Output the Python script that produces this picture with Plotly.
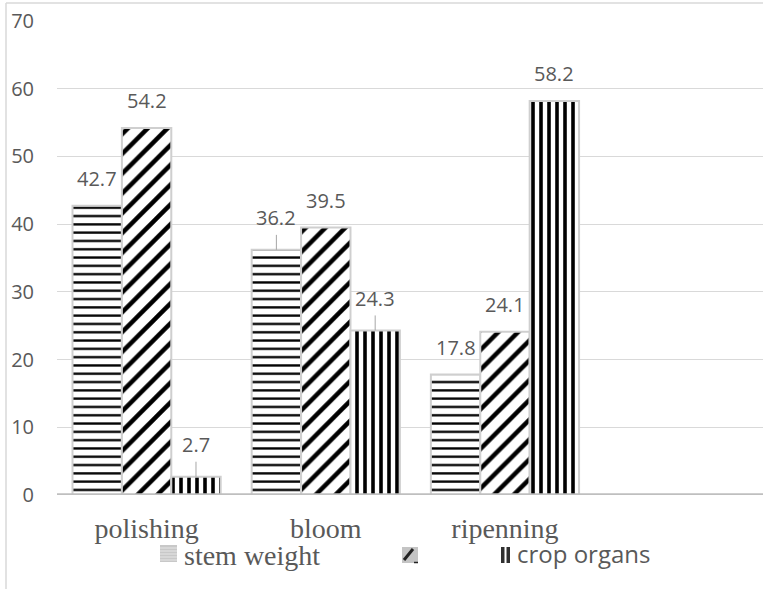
import plotly.graph_objects as go

categories = ["polishing", "bloom", "ripenning"]
series_names = ["stem weight", "", "crop organs"]
stem_weight = [42.7, 36.2, 17.8]
series_two = [54.2, 39.5, 24.1]
crop_organs = [2.7, 24.3, 58.2]
y_ticks = [0, 10, 20, 30, 40, 50, 60, 70]

series_values = [stem_weight, series_two, crop_organs]
patterns = [
    dict(shape="-", size=8.3, solidity=0.28),
    dict(shape="/", size=14, solidity=0.32),
    dict(shape="|", size=8, solidity=0.45),
]

W, H = 763, 589
L, R, T, B = 57, 0, 21, 94
PW, PH = W - L - R, H - T - B

x_idx = list(range(len(categories)))
fig = go.Figure()
for name, vals, pat in zip(series_names, series_values, patterns):
    fig.add_trace(go.Bar(
        x=x_idx, y=vals, name=name,
        marker=dict(color="white",
                    line=dict(color="#cfcfcf", width=2),
                    pattern=dict(fgcolor="#000000", bgcolor="white", fgopacity=1,
                                 fillmode="replace", **pat)),
        showlegend=False, hoverinfo="skip",
    ))

bargap = 0.173
bw = (1 - bargap) / 3
offsets = [-bw, 0, bw]
leader = {(0, 2), (1, 0), (1, 2)}

annotations = []
shapes = []
for s, vals in enumerate(series_values):
    for i, v in enumerate(vals):
        has_leader = (i, s) in leader
        annotations.append(dict(
            x=i + offsets[s], y=v, xref="x", yref="y", text=f"{v}",
            showarrow=False, yanchor="middle", yshift=32 if has_leader else 27,
            font=dict(family="Open Sans", size=20, color="#595959"),
        ))
        if has_leader:
            shapes.append(dict(
                type="line", xref="x", yref="y", ysizemode="pixel", yanchor=v,
                x0=i + offsets[s], x1=i + offsets[s], y0=0, y1=15,
                line=dict(color="#a6a6a6", width=1),
            ))

def px(x):
    return (x - L) / PW

def py(y):
    return (H - B - y) / PH

# zero line
shapes.append(dict(type="line", xref="paper", yref="y", x0=0, x1=1, y0=0, y1=0,
                   line=dict(color="#bfbfbf", width=3.5), layer="above"))
# frame lines (left and top)
shapes.append(dict(type="line", xref="paper", yref="paper", x0=px(6), x1=px(6),
                   y0=py(3), y1=py(589), line=dict(color="#d9d9d9", width=1.5)))
shapes.append(dict(type="line", xref="paper", yref="paper", x0=px(6), x1=px(763),
                   y0=py(3), y1=py(3), line=dict(color="#d9d9d9", width=1.5)))

# legend swatches
shapes.append(dict(type="rect", xref="paper", yref="paper", x0=px(160), x1=px(177),
                   y0=py(562), y1=py(545), fillcolor="#c8c8c8", line=dict(width=0)))
for yy in [548, 551, 554, 557, 560]:
    shapes.append(dict(type="line", xref="paper", yref="paper", x0=px(160), x1=px(177),
                       y0=py(yy), y1=py(yy), line=dict(color="#e6e6e6", width=1)))
shapes.append(dict(type="rect", xref="paper", yref="paper", x0=px(402), x1=px(418),
                   y0=py(563), y1=py(547), fillcolor="#c4c4c4", line=dict(width=0)))
shapes.append(dict(type="line", xref="paper", yref="paper", x0=px(404), x1=px(413),
                   y0=py(560), y1=py(549), line=dict(color="#222222", width=3)))
shapes.append(dict(type="line", xref="paper", yref="paper", x0=px(414), x1=px(418),
                   y0=py(562.5), y1=py(562.5), line=dict(color="#222222", width=1.5)))
shapes.append(dict(type="rect", xref="paper", yref="paper", x0=px(501), x1=px(504.5),
                   y0=py(563), y1=py(547), fillcolor="#303030", line=dict(width=0)))
shapes.append(dict(type="rect", xref="paper", yref="paper", x0=px(506.5), x1=px(510),
                   y0=py(563), y1=py(547), fillcolor="#303030", line=dict(width=0)))

# legend texts
annotations.append(dict(x=px(182), y=py(555), xref="paper", yref="paper",
                        text=series_names[0], showarrow=False, xanchor="left", yanchor="middle",
                        font=dict(family="Liberation Serif", size=28, color="#595959")))
annotations.append(dict(x=px(515), y=py(553), xref="paper", yref="paper",
                        text=series_names[2], showarrow=False, xanchor="left", yanchor="middle",
                        font=dict(family="Open Sans", size=24, color="#595959")))

fig.update_layout(
    width=W, height=H,
    margin=dict(l=L, r=R, t=T, b=B, pad=0),
    paper_bgcolor="white", plot_bgcolor="white",
    barmode="group", bargap=bargap, bargroupgap=0,
    annotations=annotations, shapes=shapes,
    xaxis=dict(range=[-0.5, 3.44], tickmode="array", tickvals=x_idx, ticktext=categories,
               showgrid=False, zeroline=False, showline=False,
               ticks="outside", ticklen=8, tickcolor="rgba(0,0,0,0)",
               tickfont=dict(family="Liberation Serif", size=28, color="#595959"),
               fixedrange=True),
    yaxis=dict(range=[0, 70], tickmode="array", tickvals=y_ticks,
               showgrid=True, gridcolor="#d9d9d9", gridwidth=1,
               zeroline=False, showline=False,
               ticks="outside", ticklen=18, tickcolor="rgba(0,0,0,0)",
               tickfont=dict(family="Open Sans", size=20, color="#595959"),
               fixedrange=True),
)

fig.write_html("out.html", config={"displayModeBar": False},
               post_script="document.body.style.margin='0';")
